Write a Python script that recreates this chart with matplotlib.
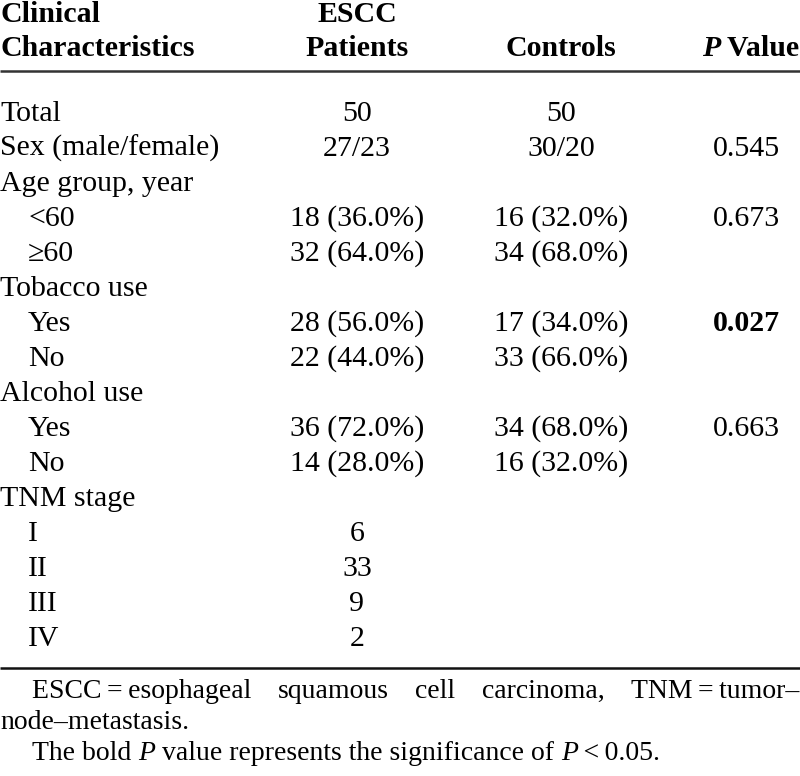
import matplotlib
matplotlib.use("Agg")
import matplotlib.pyplot as plt

plt.rcParams['font.family'] = ['Liberation Serif', 'DejaVu Serif']

# table content
row_labels = ["Total", "Sex (male/female)", "Age group, year", "<60", "\u226560",
              "Tobacco use", "Yes", "No", "Alcohol use", "Yes", "No",
              "TNM stage", "I", "II", "III", "IV"]
indented = [False, False, False, True, True, False, True, True, False, True, True,
            False, True, True, True, True]
escc = ["50", "27/23", "", "18 (36.0%)", "32 (64.0%)", "", "28 (56.0%)", "22 (44.0%)",
        "", "36 (72.0%)", "14 (28.0%)", "", "6", "33", "9", "2"]
controls = ["50", "30/20", "", "16 (32.0%)", "34 (68.0%)", "", "17 (34.0%)", "33 (66.0%)",
            "", "34 (68.0%)", "16 (32.0%)", "", "", "", "", ""]
pvals = ["", "0.545", "", "0.673", "", "", "0.027", "", "", "0.663", "", "", "", "", "", ""]
significant = ["0.027"]

header_1 = ["Clinical", "ESCC", "", ""]
header_2 = ["Characteristics", "Patients", "Controls", "Value"]

footnote_1 = ["ESCC\u2009=\u2009esophageal", "squamous", "cell", "carcinoma,", "TNM\u2009=\u2009tumor\u2013"]
footnote_2 = "node\u2013metastasis."
footnote_3 = [("The bold ", "normal"), ("P", "italic"),
              (" value represents the significance of ", "normal"), ("P", "italic"),
              ("\u2009<\u20090.05.", "normal")]

W, H = 800, 776
FS = 21.5
FS_NOTE = 20

fig = plt.figure(figsize=(W / 100, H / 100), dpi=100)
ax = fig.add_axes([0, 0, 1, 1])
ax.set_xlim(0, W)
ax.set_ylim(H, 0)
ax.axis("off")
renderer = fig.canvas.get_renderer()


def width(t):
    bb = t.get_window_extent(renderer=renderer)
    return bb.width


x_label, x_indent = 0, 28
x_escc, x_ctrl, x_p = 357, 561, 780

# header
ax.text(x_label, 22, header_1[0], fontsize=FS, fontweight="bold", va="baseline")
ax.text(x_label, 56, header_2[0], fontsize=FS, fontweight="bold", va="baseline")
ax.text(x_escc, 22, header_1[1], fontsize=FS, fontweight="bold", va="baseline", ha="center")
ax.text(x_escc, 56, header_2[1], fontsize=FS, fontweight="bold", va="baseline", ha="center")
ax.text(x_ctrl, 56, header_2[2], fontsize=FS, fontweight="bold", va="baseline", ha="center")
tv = ax.text(799, 56, " " + header_2[3], fontsize=FS, fontweight="bold", va="baseline", ha="right")
ax.text(799 - width(tv), 56, "P", fontsize=FS, fontweight="bold", fontstyle="italic",
        va="baseline", ha="right")

ax.plot([0, W], [71, 71], color="#333333", lw=1.8, solid_capstyle="butt")

# body
y0, dy = 121, 35
for i, lab in enumerate(row_labels):
    y = y0 + i * dy
    ax.text(x_indent if indented[i] else x_label, y, lab, fontsize=FS, va="baseline")
    if escc[i]:
        ax.text(x_escc, y, escc[i], fontsize=FS, va="baseline", ha="center")
    if controls[i]:
        ax.text(x_ctrl, y, controls[i], fontsize=FS, va="baseline", ha="center")
    if pvals[i]:
        ax.text(x_p, y, pvals[i], fontsize=FS, va="baseline", ha="right",
                fontweight="bold" if pvals[i] in significant else "normal")

ax.plot([0, W], [668, 668], color="#111111", lw=1.8, solid_capstyle="butt")

# footnotes, first line justified
words = [ax.text(0, 698, w, fontsize=FS_NOTE, va="baseline") for w in footnote_1]
ws = [width(t) for t in words]
left, right = 32, 799
gap = (right - left - sum(ws)) / (len(words) - 1)
x = left
for t, w in zip(words, ws):
    t.set_x(x)
    x += w + gap

ax.text(0, 729, footnote_2, fontsize=FS_NOTE, va="baseline")

x = 32
for s, style in footnote_3:
    t = ax.text(x, 760, s, fontsize=FS_NOTE, va="baseline", fontstyle=style)
    x += width(t)

fig.savefig("out.png", dpi=100)
